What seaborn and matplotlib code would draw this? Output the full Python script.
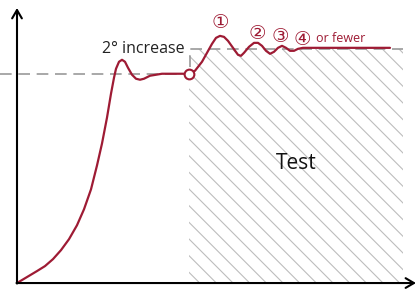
import matplotlib
matplotlib.use("Agg")
import matplotlib.pyplot as plt
import seaborn as sns
import pandas as pd

# -----------------------------
# data
# -----------------------------
curve_x = [0, 10, 20, 28, 36, 44, 52, 60, 67, 74, 80, 85, 90, 94, 97,
           99, 102, 105, 108, 111, 115, 119, 123, 127, 133, 145, 172,
           178, 185, 190, 195, 199, 203, 207, 211, 216, 221, 224, 227,
           232, 237, 241, 245, 249, 253, 257, 261, 265, 269, 273, 277,
           281, 286, 373]
curve_y = [0, 6, 12, 17, 24, 33, 44, 58, 74, 94, 118, 140, 166, 190, 206,
           215, 222, 224, 222, 216, 209, 205, 204, 205, 208, 210, 210,
           213, 222, 231, 240, 246, 248, 247, 243, 236, 229, 228, 231,
           237, 241, 241, 238, 233, 230, 232, 236, 238, 236, 233, 233,
           235, 236, 236]

baseline = 210
target = 235
test_start = 172
test_end = 386

marks = ["①", "②", "③", "④"]
mark_x = [203, 240, 263, 285]
mark_y = [261, 250, 247, 244]

red = "#9e1b34"
gray = "#9a9a9a"

df = pd.DataFrame({"x": curve_x, "y": curve_y})

sns.set_style("white")
plt.rcParams["font.family"] = ["Open Sans", "DejaVu Sans"]
plt.rcParams["hatch.color"] = "#bdbdbd"
plt.rcParams["hatch.linewidth"] = 0.8

fig = plt.figure(figsize=(4.2, 2.92), dpi=100)
ax = fig.add_axes([0, 0, 1, 1])
ax.set_xlim(-17, 403)
ax.set_ylim(-9, 284)
ax.axis("off")

# test area
ax.fill_between([test_start, test_end], 0, target, facecolor="white",
                hatch="\\\\", edgecolor="#bdbdbd", linewidth=0)

# dashed guide lines
ax.plot([-17, test_start], [baseline, baseline], color=gray, lw=1.2,
        dashes=(7, 4))
ax.plot([test_start + 1, test_start + 1, test_end], [217, target, target],
        color=gray, lw=1.2, dashes=(7, 4))

# curve
sns.lineplot(data=df, x="x", y="y", sort=False, estimator=None, color=red,
             lw=1.6, ax=ax)
ax.plot(test_start, baseline, "o", ms=7, mfc="white", mec=red, mew=1.5)

# axes arrows
ax.annotate("", xy=(0, 276), xytext=(0, -0.5),
            arrowprops=dict(arrowstyle="->,head_length=0.6,head_width=0.35",
                            color="black", lw=1.5, shrinkA=0, shrinkB=0))
ax.annotate("", xy=(399, 0), xytext=(-0.5, 0),
            arrowprops=dict(arrowstyle="->,head_length=0.6,head_width=0.35",
                            color="black", lw=1.5, shrinkA=0, shrinkB=0))

# labels
ax.text(168, 235, "2° increase", ha="right", va="center", fontsize=11.5,
        color="#222222")
for m, mx, my in zip(marks, mark_x, mark_y):
    ax.text(mx, my, m, ha="center", va="center", fontsize=14, color=red,
            family=["DejaVu Sans"])
ax.text(299, 245, "or fewer", ha="left", va="center", fontsize=9, color=red)
ax.text(279, 120, "Test", ha="center", va="center", fontsize=15,
        color="#111111")

fig.savefig("out.png", dpi=100)
